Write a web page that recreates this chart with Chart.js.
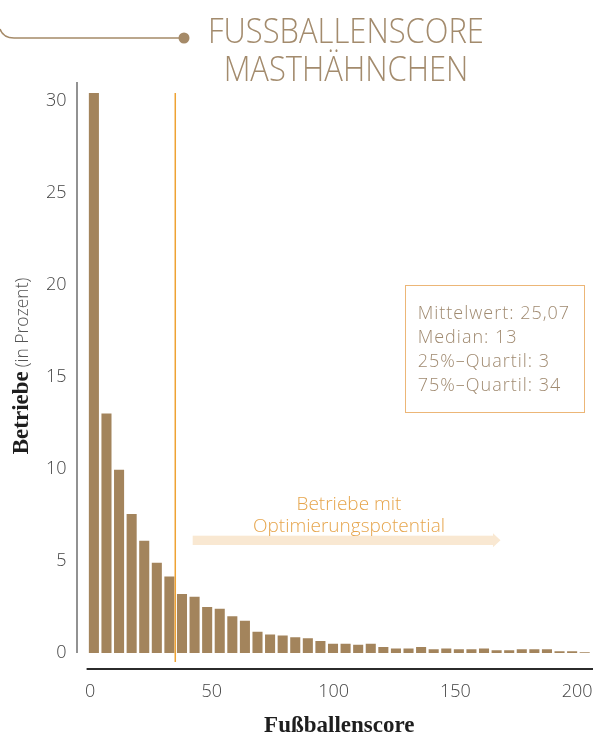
<!DOCTYPE html>
<html><head><meta charset="utf-8">
<script src="https://cdn.jsdelivr.net/npm/chart.js@4.4.1/dist/chart.umd.min.js"></script>
<style>
html,body{margin:0;padding:0;background:#fff;}
#wrap{position:relative;width:595px;height:734px;overflow:hidden;background:#fff;}
#c{position:absolute;left:0;top:0;}
.title{position:absolute;left:146px;top:12px;width:400px;text-align:center;font-family:"Open Sans";font-weight:300;font-size:34px;line-height:37.5px;color:#a38b6d;transform:scaleX(0.91);transform-origin:50% 50%;white-space:nowrap;}
.ytitle{position:absolute;left:-129px;top:353.5px;width:300px;height:24px;line-height:24px;text-align:center;transform:rotate(-90deg);transform-origin:50% 50%;white-space:nowrap;}
.ytitle .b{font-family:"Liberation Serif";font-weight:bold;font-size:23px;color:#1e1e1e;}
.ytitle .l{font-family:"Open Sans";font-weight:300;font-size:17.5px;color:#555;}
.stats{position:absolute;left:405px;top:285px;width:178px;height:126px;border:1.5px solid #ecb677;}
.statstext{position:absolute;left:417.7px;top:299.7px;font-family:"Open Sans";font-weight:300;font-size:18px;line-height:24px;letter-spacing:1px;color:#a08a70;white-space:nowrap;}
.arrowtext{position:absolute;left:199px;top:493px;width:300px;text-align:center;font-family:"Open Sans";font-weight:300;font-size:19px;line-height:21.7px;color:#e6a54c;white-space:nowrap;}
svg{position:absolute;left:0;top:0;}
</style>
</head>
<body>
<div id="wrap">
<canvas id="c" width="595" height="734"></canvas>
<svg width="595" height="734" viewBox="0 0 595 734">
  <path d="M0,29 Q3,38 14,38 L184,38" fill="none" stroke="#a58a68" stroke-width="1.5"/>
  <circle cx="184" cy="38" r="5.5" fill="#a58a68"/>
  <rect x="192.7" y="535.7" width="300.3" height="9.3" fill="#f9e8d2"/>
  <polygon points="493,533.3 500.5,540.3 493,547.3" fill="#f9e8d2"/>
</svg>
<div class="title">FUSSBALLENSCORE<br>MASTHÄHNCHEN</div>
<div class="ytitle"><span class="b">Betriebe</span> <span class="l">(in Prozent)</span></div>
<div class="stats"></div>
<div class="statstext">Mittelwert: 25,07<br>Median: 13<br>25%–Quartil: 3<br>75%–Quartil: 34</div>
<div class="arrowtext">Betriebe mit<br>Optimierungspotential</div>
</div>
<script>
const binStarts = [0,5,10,15,20,25,30,35,40,45,50,55,60,65,70,75,80,85,90,95,100,105,110,115,120,125,130,135,140,145,150,155,160,165,170,175,180,185,190,195];
const shares = [30.4,13.0,9.95,7.55,6.1,4.9,4.15,3.2,3.05,2.5,2.4,2.0,1.75,1.15,1.0,0.95,0.85,0.8,0.65,0.5,0.5,0.45,0.5,0.32,0.25,0.25,0.32,0.2,0.25,0.2,0.2,0.25,0.15,0.15,0.2,0.2,0.2,0.1,0.1,0.04];
const xTickValues = [0,50,100,150,200];
const yTickValues = [0,5,10,15,20,25,30];
const thresholdScore = 35;

const guides = {
  id: 'guides',
  afterDatasetsDraw(chart) {
    const {ctx, scales: {y, x2}, chartArea} = chart;
    const y0 = y.getPixelForValue(0);
    ctx.save();
    ctx.strokeStyle = '#6e6e6e'; ctx.lineWidth = 1.5;
    ctx.beginPath(); ctx.moveTo(77, chartArea.top); ctx.lineTo(77, y0); ctx.stroke();
    ctx.strokeStyle = '#2b2b2b'; ctx.lineWidth = 2;
    ctx.beginPath(); ctx.moveTo(chartArea.left - 1, y0 + 16); ctx.lineTo(593, y0 + 16); ctx.stroke();
    const tx = x2.getPixelForValue(thresholdScore);
    ctx.strokeStyle = '#eea233'; ctx.lineWidth = 1.5;
    ctx.beginPath(); ctx.moveTo(tx, y.getPixelForValue(shares[0])); ctx.lineTo(tx, y0 + 9); ctx.stroke();
    ctx.restore();
  }
};

const tickFont = {family: 'Open Sans', weight: 300, size: 18};
new Chart(document.getElementById('c'), {
  type: 'bar',
  data: {
    labels: binStarts,
    datasets: [{data: shares, backgroundColor: '#a3845c', borderWidth: 0, barPercentage: 0.8, categoryPercentage: 1.0}]
  },
  options: {
    responsive: false,
    animation: false,
    layout: {padding: {top: 82, right: 4, left: 0, bottom: 0}},
    plugins: {legend: {display: false}, tooltip: {enabled: false}},
    scales: {
      x: {type: 'category', display: false, offset: true, grid: {display: false}},
      x2: {
        type: 'linear', position: 'bottom', min: -1, max: 205.7, offset: false,
        afterBuildTicks: s => { s.ticks = xTickValues.map(v => ({value: v})); },
        afterFit: s => { s.height = 81; s.paddingLeft = 0; s.paddingRight = 0; },
        grid: {display: false, drawTicks: false, offset: false},
        border: {display: false},
        ticks: {font: tickFont, color: '#444', padding: 28, maxRotation: 0, autoSkip: false},
        title: {display: true, text: 'Fußballenscore', color: '#1e1e1e',
          font: {family: 'Liberation Serif', weight: 'bold', size: 23, lineHeight: 0.7},
          padding: {top: 0, bottom: 0}}
      },
      y: {
        min: 0, max: 31,
        afterBuildTicks: s => { s.ticks = yTickValues.map(v => ({value: v})); },
        afterFit: s => { s.width = 87.6; s.paddingTop = 0; s.paddingBottom = 0; },
        grid: {display: false, drawTicks: false},
        border: {display: false},
        ticks: {font: tickFont, color: '#444', padding: 21}
      }
    }
  },
  plugins: [guides]
});
</script>
</body></html>
